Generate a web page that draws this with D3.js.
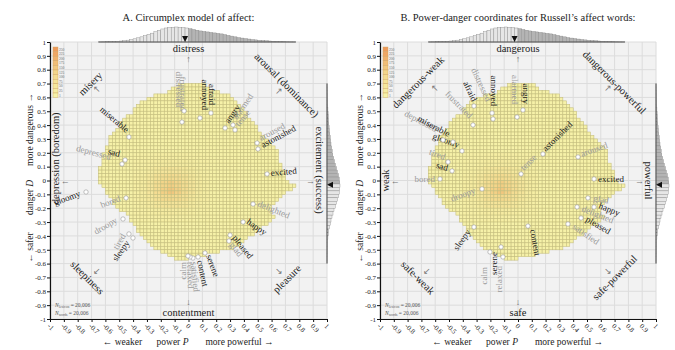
<!DOCTYPE html>
<html>
<head>
<meta charset="utf-8">
<script src="https://cdn.jsdelivr.net/npm/d3@7"></script>
<style>
    body { margin: 0; background: #fff; }
    svg text { font-family: "Liberation Serif", "Times New Roman", serif; }
</style>
</head>
<body>
<div id="chart"></div>
<script>

// ---- data ----
const ticks = [-1, -0.9, -0.8, -0.7, -0.6, -0.5, -0.4, -0.3, -0.2, -0.1, 0, 0.1, 0.2, 0.3, 0.4, 0.5, 0.6, 0.7, 0.8, 0.9, 1];
const colourTicks = [250, 225, 200, 175, 150, 125, 100, 75, 50, 25, 1];
const binW = 0.025;

// 2d histogram: for each row (lower edge in D) the first and last filled P bin
const rowD = [0.675, 0.65, 0.625, 0.6, 0.575, 0.55, 0.525, 0.5, 0.475, 0.45, 0.425, 0.4, 0.375, 0.35, 0.325, 0.3, 0.275, 0.25, 0.225, 0.2, 0.175, 0.15, 0.125, 0.1, 0.075, 0.05, 0.025, 0, -0.025, -0.05, -0.075, -0.1, -0.125, -0.15, -0.175, -0.2, -0.225, -0.25, -0.275, -0.3, -0.325, -0.35, -0.375, -0.4, -0.425, -0.45, -0.475, -0.5, -0.525, -0.55, -0.575];
const rowP0 = [-0.075, -0.125, -0.15, -0.25, -0.3, -0.35, -0.375, -0.4, -0.4, -0.45, -0.475, -0.5, -0.5, -0.525, -0.55, -0.575, -0.575, -0.575, -0.6, -0.6, -0.625, -0.625, -0.625, -0.625, -0.65, -0.65, -0.65, -0.65, -0.65, -0.625, -0.6, -0.6, -0.575, -0.55, -0.55, -0.525, -0.5, -0.45, -0.425, -0.425, -0.4, -0.375, -0.375, -0.35, -0.325, -0.3, -0.275, -0.25, -0.2, -0.15, -0.1];
const rowP1 = [0.1, 0.125, 0.2, 0.275, 0.3, 0.325, 0.35, 0.375, 0.4, 0.4, 0.425, 0.45, 0.475, 0.475, 0.5, 0.525, 0.55, 0.575, 0.6, 0.625, 0.625, 0.625, 0.625, 0.65, 0.65, 0.675, 0.675, 0.675, 0.7, 0.75, 0.725, 0.675, 0.65, 0.625, 0.6, 0.575, 0.575, 0.575, 0.6, 0.575, 0.55, 0.5, 0.475, 0.45, 0.4, 0.375, 0.35, 0.3, 0.2, 0.1, -0.025];

// counts in the dense middle, in 0.05 blocks (rows: lower edge D, cols: left edge P)
const baseCount = 6;
const denseP = [-0.4, -0.35, -0.3, -0.25, -0.2, -0.15, -0.1, -0.05, 0, 0.05, 0.1];
const denseD = [0.15, 0.1, 0.05, 0, -0.05, -0.1, -0.15, -0.2, -0.25, -0.3];
const denseCounts = [
    [10, 12, 15, 18, 20, 22, 20, 18, 15, 12, 10],
    [12, 15, 20, 28, 32, 35, 32, 28, 22, 15, 12],
    [15, 20, 30, 45, 55, 60, 55, 45, 32, 22, 15],
    [18, 28, 45, 70, 90, 100, 90, 70, 45, 28, 18],
    [20, 32, 55, 90, 125, 140, 125, 90, 55, 32, 20],
    [20, 32, 55, 95, 135, 155, 135, 95, 60, 32, 20],
    [18, 28, 45, 75, 100, 110, 100, 75, 45, 28, 18],
    [15, 22, 32, 50, 60, 65, 60, 50, 32, 22, 15],
    [12, 15, 20, 28, 32, 35, 32, 28, 20, 15, 12],
    [10, 12, 15, 18, 20, 20, 18, 15, 12, 10, 10]
];

// marginal histograms
const histPStart = -0.65;
const histPCounts = [5, 8, 10, 15, 20, 30, 40, 55, 75, 100, 130, 170, 210, 260, 310, 360, 420, 480, 530, 570, 590, 600, 610, 600, 590, 570, 540, 510, 480, 450, 430, 410, 390, 370, 350, 330, 300, 270, 240, 210, 180, 160, 140, 120, 100, 85, 70, 60, 50, 40, 32, 25, 18, 12, 8, 5, 3];
const histDTop = 0.675;
const histDCounts = [3, 5, 8, 12, 18, 25, 35, 45, 55, 65, 75, 90, 105, 120, 140, 160, 180, 200, 230, 260, 290, 330, 370, 420, 470, 520, 570, 610, 640, 650, 640, 610, 570, 520, 470, 410, 350, 300, 250, 200, 160, 120, 90, 65, 45, 30, 20, 12, 8, 5, 3, 2];
const meanP = -0.025;
const meanD = -0.03;

// words, panel A
const wordsA = ["distressed", "frustrated", "annoyed", "afraid", "angry", "alarmed", "tense", "aroused", "astonished", "excited", "delighted", "happy", "pleased", "glad", "serene", "content", "satisfied", "relaxed", "calm", "tired", "sleepy", "droopy", "bored", "gloomy", "depressed", "sad", "miserable"];
const powerA = [-0.032, -0.047, 0.083, 0.162, 0.264, 0.321, 0.336, 0.495, 0.502, 0.567, 0.466, 0.394, 0.300, 0.292, 0.119, 0.069, 0.032, 0.011, -0.004, -0.430, -0.401, -0.473, -0.451, -0.740, -0.480, -0.458, -0.430];
const dangerA = [0.502, 0.422, 0.451, 0.487, 0.379, 0.401, 0.365, 0.271, 0.227, 0.047, -0.170, -0.300, -0.394, -0.437, -0.523, -0.552, -0.560, -0.552, -0.545, -0.386, -0.415, -0.278, -0.126, -0.083, 0.119, 0.148, 0.314];

// words, panel B
const wordsB = ["afraid", "distressed", "annoyed", "frustrated", "alarmed", "angry", "depressed", "miserable", "gloomy", "tired", "sad", "bored", "droopy", "tense", "astonished", "aroused", "excited", "glad", "happy", "delighted", "pleased", "satisfied", "content", "sleepy", "calm", "serene", "relaxed"];
const powerB = [-0.319, -0.181, -0.188, -0.326, -0.007, 0.036, -0.543, -0.471, -0.406, -0.507, -0.478, -0.565, -0.261, 0.022, 0.181, 0.435, 0.551, 0.507, 0.551, 0.428, 0.457, 0.362, 0.072, -0.319, -0.203, -0.123, -0.109];
const dangerB = [0.538, 0.444, 0.487, 0.401, 0.458, 0.509, 0.292, 0.278, 0.213, 0.134, 0.069, 0.011, -0.061, 0.047, 0.191, 0.170, 0.011, -0.126, -0.191, -0.191, -0.271, -0.314, -0.329, -0.336, -0.516, -0.480, -0.552];

// ---- label placement (anchor, offset from point in px, rotation, grey?) ----
const labelA = {
    distressed: ["end", -8, -4, 90, 1], frustrated: ["end", -2, -11, 90, 1],
    annoyed: ["end", 2, -8, 90, 0], afraid: ["end", -2, -8, 90, 0],
    angry: ["start", 4, -4, -55, 0], alarmed: ["start", 4, -5, -55, 1], tense: ["start", 4, -3, -50, 1],
    aroused: ["start", 4, -2, -28, 1], astonished: ["start", 5, -1, -28, 0], excited: ["start", 4, 2, -5, 0],
    delighted: ["start", 4, 2, 22, 1], happy: ["start", 3, 1, 35, 0], pleased: ["start", 2, 3, 52, 0],
    glad: ["start", 0, 4, 52, 1], serene: ["start", 1, 3, 70, 0], content: ["start", -1, 4, 78, 0],
    satisfied: ["start", -2, 4, 85, 1], relaxed: ["start", -3, 5, 88, 1], calm: ["end", -2, 6, -90, 1],
    tired: ["end", -3, 2, -60, 1], sleepy: ["end", -3, 5, -55, 0], droopy: ["end", -5, 3, -30, 1],
    bored: ["end", -5, 3, -20, 1], gloomy: ["end", -5, 4, -20, 0], depressed: ["end", -12, -4, 15, 1],
    sad: ["end", -6, -3, 15, 0], miserable: ["end", -3, -4, 40, 0]
};
const labelB = {
    afraid: ["end", -2, -4, 65, 0], distressed: ["end", -7, -17, 65, 1], annoyed: ["end", -1, -7, 90, 0],
    frustrated: ["end", -4, -6, 45, 1], alarmed: ["end", -5, -13, 90, 1], angry: ["end", 0, -6, 90, 0],
    depressed: ["end", -8, -8, 28, 1], miserable: ["end", -5, -5, 28, 0], gloomy: ["end", -4, -3, 20, 0],
    tired: ["end", -4, -2, 20, 1], sad: ["end", -5, 0, 15, 0], bored: ["end", -5, 3, 0, 1],
    droopy: ["end", -6, 4, -20, 1], tense: ["start", 3, -3, -45, 1], astonished: ["start", 3, -2, -45, 0],
    aroused: ["start", 4, 0, -20, 1], excited: ["start", 4, 3, 0, 0], glad: ["start", 5, 3, 10, 1],
    happy: ["start", 4, 1, 22, 0], delighted: ["start", 4, 4, 22, 1], pleased: ["start", 4, 3, 30, 0],
    satisfied: ["start", 4, 4, 35, 1], content: ["start", 2, 4, 80, 0], sleepy: ["end", -3, 5, -55, 0],
    calm: ["end", -3, 15, -90, 1], serene: ["end", -4, 5, -90, 0], relaxed: ["end", -1, 9, -90, 1]
};

const panels = [
    {
        title: "A. Circumplex model of affect:",
        range: [50, 327],
        words: wordsA, power: powerA, danger: dangerA, layout: labelA,
        compass: [
            ["distress", 0, 0.955, 0], ["↑", 0, 0.875, 0],
            ["contentment", 0, -0.955, 0], ["↓", 0, -0.875, 0],
            ["arousal (dominance)", 0.71, 0.69, 45], ["↗", 0.65, 0.65, 0],
            ["misery", -0.71, 0.70, -45], ["↖", -0.66, 0.66, 0],
            ["sleepiness", -0.73, -0.70, 45], ["↙", -0.66, -0.65, 0],
            ["pleasure", 0.71, -0.71, -45], ["↘", 0.65, -0.65, 0],
            ["depression (boredom)", -0.965, 0.16, -90], ["←", -0.89, 0, 0],
            ["excitement (success)", 0.95, 0.075, 90], ["→", 0.88, 0, 0]
        ]
    },
    {
        title: "B. Power-danger coordinates for Russell’s affect words:",
        range: [380, 656],
        words: wordsB, power: powerB, danger: dangerB, layout: labelB,
        compass: [
            ["dangerous", 0, 0.955, 0], ["↑", 0, 0.875, 0],
            ["safe", 0, -0.955, 0], ["↓", 0, -0.875, 0],
            ["dangerous-powerful", 0.70, 0.71, 45], ["↗", 0.65, 0.67, 0],
            ["dangerous-weak", -0.725, 0.71, -45], ["↖", -0.60, 0.67, 0],
            ["safe-weak", -0.725, -0.70, 45], ["↙", -0.66, -0.65, 0],
            ["safe-powerful", 0.70, -0.70, -45], ["↘", 0.65, -0.65, 0],
            ["weak", -0.96, 0, -90], ["←", -0.89, 0, 0],
            ["powerful", 0.95, 0, 90], ["→", 0.88, 0, 0]
        ]
    }
];

// ---- drawing ----
const svg = d3.select("#chart").append("svg")
    .attr("width", 675)
    .attr("height", 350);

const yScale = d3.scaleLinear().domain([-1, 1]).range([319, 42]);
const colour = d3.scaleLinear().domain([1, 125, 250]).range(["#f6f2a9", "#f3d58a", "#ee9b5a"]);

function countAt(p, d) {
    const bp = Math.floor(p / 0.05 + 1e-6) * 0.05;
    const bd = Math.floor(d / 0.05 + 1e-6) * 0.05;
    const j = Math.round((bp - denseP[0]) / 0.05);
    const k = Math.round((denseD[0] - bd) / 0.05);
    if (j >= 0 && j < denseP.length && k >= 0 && k < denseD.length) return denseCounts[k][j];
    return baseCount;
}

const cells = [];
rowD.forEach(function (d, i) {
    const n = Math.round((rowP1[i] - rowP0[i]) / binW);
    for (let c = 0; c <= n; c++) {
        const p = rowP0[i] + c * binW;
        cells.push({p: p, d: d, n: countAt(p, d)});
    }
});

const hScaleP = d3.scaleLinear().domain([0, d3.max(histPCounts)]).range([0, 15]);
const hScaleD = d3.scaleLinear().domain([0, d3.max(histDCounts)]).range([0, 13]);

panels.forEach(function (cfg) {
    const xScale = d3.scaleLinear().domain([-1, 1]).range(cfg.range);
    const g = svg.append("g");
    const x0 = xScale(-1), x1 = xScale(1), y0 = yScale(1), y1 = yScale(-1);

    g.append("text")
        .attr("x", (x0 + x1) / 2)
        .attr("y", 21)
        .attr("text-anchor", "middle")
        .style("font-size", "10.5px")
        .attr("fill", "#222")
        .text(cfg.title);

    g.append("rect")
        .attr("x", x0).attr("y", y0)
        .attr("width", x1 - x0).attr("height", y1 - y0)
        .attr("fill", "#f2f2f2");

    g.selectAll(".vgrid").data(ticks).enter().append("line")
        .attr("x1", d => xScale(d)).attr("x2", d => xScale(d))
        .attr("y1", y0).attr("y2", y1)
        .attr("stroke", "#dcdcdc").attr("stroke-width", 1);

    g.selectAll(".hgrid").data(ticks).enter().append("line")
        .attr("y1", d => yScale(d)).attr("y2", d => yScale(d))
        .attr("x1", x0).attr("x2", x1)
        .attr("stroke", "#dcdcdc").attr("stroke-width", 1);

    // heatmap
    g.selectAll(".cell").data(cells).enter().append("rect")
        .attr("x", d => xScale(d.p))
        .attr("y", d => yScale(d.d + binW))
        .attr("width", d => xScale(d.p + binW) - xScale(d.p))
        .attr("height", d => yScale(d.d) - yScale(d.d + binW))
        .attr("fill", d => colour(d.n))
        .attr("stroke", "#c6bf7e")
        .attr("stroke-width", 0.6);

    // colour bar
    const cb = g.append("g");
    cb.selectAll("rect").data(colourTicks).enter().append("rect")
        .attr("x", x0 + 3)
        .attr("y", (d, i) => y0 + 5 + i * 4.6)
        .attr("width", 5).attr("height", 4.6)
        .attr("fill", d => colour(d))
        .attr("stroke", "#d0a060").attr("stroke-width", 0.4);
    cb.selectAll("text").data(colourTicks).enter().append("text")
        .attr("x", x0 + 9)
        .attr("y", (d, i) => y0 + 8.6 + i * 4.6)
        .style("font-size", "3.6px")
        .attr("fill", "#666")
        .text(d => d);

    // N labels
    ["lexicon", "words"].forEach(function (s, i) {
        const t = g.append("text")
            .attr("x", x0 + 5)
            .attr("y", yScale(-0.9) + 2 + i * 8)
            .style("font-size", "5.5px")
            .attr("fill", "#555");
        t.append("tspan").style("font-style", "italic").text("N");
        t.append("tspan").attr("dy", 1.2).style("font-size", "3.6px").text(s);
        t.append("tspan").attr("dy", -1.2).text(" = 20,006");
    });

    // top marginal histogram
    g.selectAll(".hp").data(histPCounts).enter().append("rect")
        .attr("x", (d, i) => xScale(histPStart + i * binW))
        .attr("width", (d, i) => xScale(histPStart + (i + 1) * binW) - xScale(histPStart + i * binW))
        .attr("y", d => y0 - hScaleP(d))
        .attr("height", d => hScaleP(d))
        .attr("fill", (d, i) => histPStart + i * binW < meanP ? "#e6e6e6" : "#b4b4b4")
        .attr("stroke", "#8a8a8a").attr("stroke-width", 0.4);
    g.append("line")
        .attr("x1", xScale(histPStart)).attr("x2", xScale(histPStart + histPCounts.length * binW))
        .attr("y1", y0).attr("y2", y0)
        .attr("stroke", "#555").attr("stroke-width", 1);
    g.append("path")
        .attr("d", "M" + (xScale(meanP) - 3) + "," + (y0 - 6) + "L" + (xScale(meanP) + 3) + "," + (y0 - 6) + "L" + xScale(meanP) + "," + y0 + "Z")
        .attr("fill", "#111");

    // right marginal histogram
    g.selectAll(".hd").data(histDCounts).enter().append("rect")
        .attr("x", x1)
        .attr("y", (d, i) => yScale(histDTop - i * binW + binW))
        .attr("height", (d, i) => yScale(histDTop - i * binW) - yScale(histDTop - i * binW + binW))
        .attr("width", d => hScaleD(d))
        .attr("fill", (d, i) => histDTop - i * binW > meanD ? "#b4b4b4" : "#e6e6e6")
        .attr("stroke", "#8a8a8a").attr("stroke-width", 0.4);
    g.append("line")
        .attr("x1", x1).attr("x2", x1)
        .attr("y1", yScale(histDTop + binW)).attr("y2", yScale(histDTop - (histDCounts.length - 1) * binW))
        .attr("stroke", "#555").attr("stroke-width", 1);
    g.append("path")
        .attr("d", "M" + (x1 + 6) + "," + (yScale(meanD) - 3) + "L" + (x1 + 6) + "," + (yScale(meanD) + 3) + "L" + x1 + "," + yScale(meanD) + "Z")
        .attr("fill", "#111");

    // axes
    const yAxis = g.append("g")
        .attr("transform", "translate(" + x0 + ",0)")
        .call(d3.axisLeft(yScale).tickValues(ticks).tickSize(3).tickSizeOuter(0).tickFormat(d => String(d)));
    const xAxis = g.append("g")
        .attr("transform", "translate(0," + y1 + ")")
        .call(d3.axisBottom(xScale).tickValues(ticks).tickSize(3).tickSizeOuter(0).tickFormat(d => String(d)));
    [yAxis, xAxis].forEach(function (ax) {
        ax.select(".domain").attr("stroke", "#111").attr("stroke-width", 1.2);
        ax.selectAll(".tick line").attr("stroke", "#111");
        ax.selectAll("text")
            .style("font-family", "'Liberation Serif', serif")
            .style("font-size", "7px")
            .attr("fill", "#222");
    });
    yAxis.selectAll("text").attr("x", -4);
    xAxis.selectAll("text")
        .attr("x", 0).attr("y", 0).attr("dy", "0.3em")
        .attr("text-anchor", "start")
        .attr("transform", "translate(-2,6) rotate(45)");

    // axis titles
    const cx = (x0 + x1) / 2;
    [["← weaker", cx - 66], ["power ", cx - 16], ["more powerful →", cx + 51]].forEach(function (t, i) {
        const el = g.append("text")
            .attr("x", t[1]).attr("y", 345)
            .attr("text-anchor", "middle")
            .style("font-size", "9.5px")
            .attr("fill", "#222")
            .text(t[0]);
        if (i === 1) el.append("tspan").style("font-style", "italic").text("P");
    });
    const cy = (y0 + y1) / 2;
    [["← safer", cy + 67], ["danger ", cy + 17], ["more dangerous →", cy - 51]].forEach(function (t, i) {
        const el = g.append("text")
            .attr("transform", "translate(" + (x0 - 17) + "," + t[1] + ") rotate(-90)")
            .attr("text-anchor", "middle")
            .style("font-size", "9.5px")
            .attr("fill", "#222")
            .text(t[0]);
        if (i === 1) el.append("tspan").style("font-style", "italic").text("D");
    });

    // compass labels
    g.selectAll(".compass").data(cfg.compass).enter().append("text")
        .attr("transform", d => "translate(" + xScale(d[1]) + "," + yScale(d[2]) + ") rotate(" + d[3] + ")")
        .attr("text-anchor", "middle")
        .attr("dy", "0.35em")
        .style("font-size", d => d[0].length === 1 ? "9px" : "10.5px")
        .attr("fill", d => d[0].length === 1 ? "#777" : "#222")
        .text(d => d[0]);

    // word points and labels
    const pts = cfg.words.map(function (w, i) {
        return {w: w, x: xScale(cfg.power[i]), y: yScale(cfg.danger[i]), l: cfg.layout[w]};
    });
    g.selectAll(".wlabel").data(pts).enter().append("text")
        .attr("transform", d => "translate(" + (d.x + d.l[1]) + "," + (d.y + d.l[2]) + ") rotate(" + d.l[3] + ")")
        .attr("text-anchor", d => d.l[0])
        .style("font-size", "9px")
        .attr("fill", d => d.l[4] ? "#9a9a9a" : "#1a1a1a")
        .text(d => d.w);
    g.selectAll(".pt").data(pts).enter().append("circle")
        .attr("cx", d => d.x).attr("cy", d => d.y)
        .attr("r", 2.2)
        .attr("fill", "#fff")
        .attr("stroke", "#999").attr("stroke-width", 0.6);
});

</script>
</body>
</html>
